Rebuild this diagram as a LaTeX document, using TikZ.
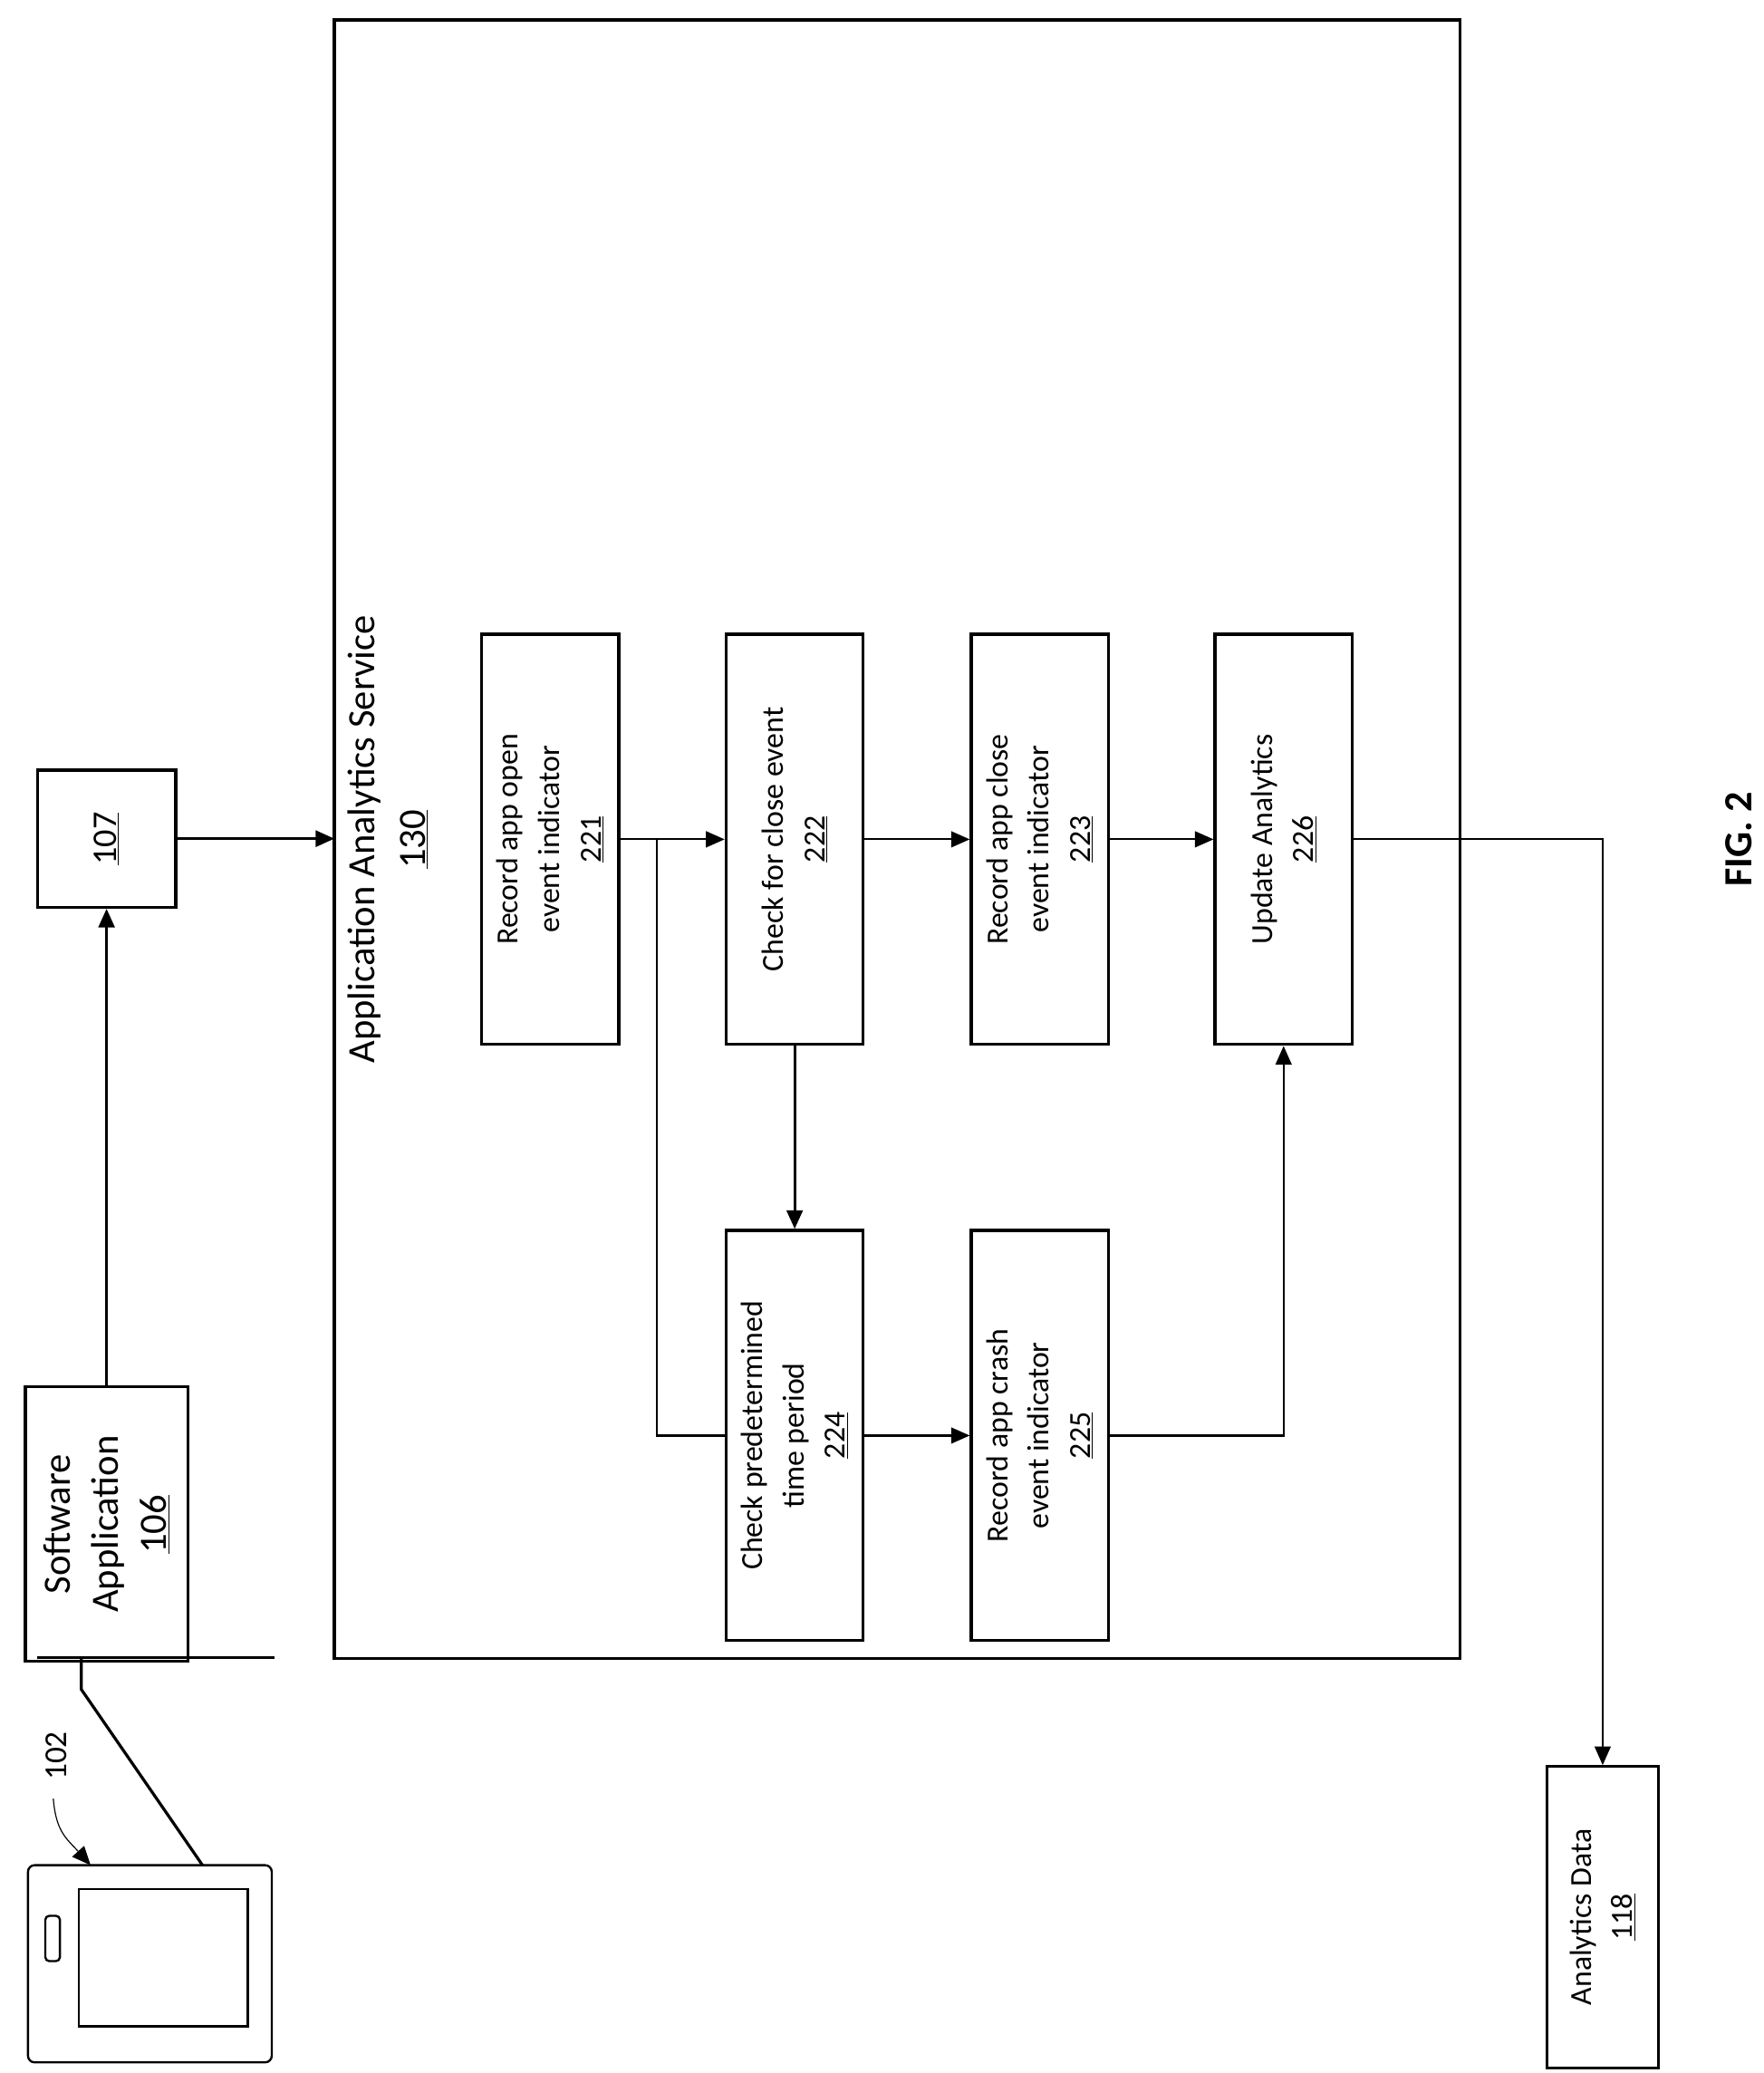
\documentclass[tikz,border=0pt]{standalone}
\usepackage{fontspec}
\setmainfont{Carlito}
\usetikzlibrary{arrows.meta}
\begin{document}
\begin{tikzpicture}[x=1pt,y=-1pt,
  box/.style={draw,line width=2.2pt,inner sep=0pt},
  lbl/.style={rotate=90,align=center,font=\fontsize{23}{31}\selectfont},
  ar/.style={line width=1.5pt,-{Triangle[length=14pt,width=12pt]}},
  ln/.style={line width=1.5pt}]
\useasboundingbox (0,0) rectangle (1324,1556);
% outer
\draw[line width=2.2pt] (251,15) rectangle (1096,1245);
\node[lbl,font=\fontsize{29}{38}\selectfont] (title) at (291,630) {Application Analytics Service\\\underline{130}};
% 107 and software app
\node[box,minimum width=104pt,minimum height=103pt] (b107) at (80,629.5) {};
\node[lbl,font=\fontsize{26}{34}\selectfont] at (b107) {\underline{107}};
\node[box,minimum width=122pt,minimum height=206pt] (sw) at (80,1144) {};
\node[lbl,font=\fontsize{29}{36}\selectfont] at (sw) {Software\\Application\\\underline{106}};
\draw[ar,line width=2.2pt] (sw.north) -- (b107.south);
\draw[ar,line width=2.2pt] (b107.east) -- (251,629.5);
% boxes
\foreach \n/\x/\y/\t in {221/413/630/{Record app open\\event indicator\\\underline{221}},
  222/596.5/630/{Check for close event\\\underline{222}},
  223/780.5/630/{Record app close\\event indicator\\\underline{223}},
  226/963.5/630/{Update Analytics\\\underline{226}},
  224/596.5/1077.5/{Check predetermined\\time period\\\underline{224}},
  225/780.5/1077.5/{Record app crash\\event indicator\\\underline{225}}}{
  \node[box,minimum width=103pt,minimum height=308pt] (n\n) at (\x,\y) {};
  \node[lbl] at (n\n) {\t};
}
\draw[ar] (n221.east) -- (n222.west);
\draw[ar] (n222.east) -- (n223.west);
\draw[ar] (n223.east) -- (n226.west);
\draw[ar,line width=2.2pt] (n222.south) -- (n224.north);
\draw[ar] (n224.east) -- (n225.west);
\draw[ar] (n225.east) -| (n226.south);
\coordinate (br) at (493,630);
\draw[ln] (br) |- (n224.west);
% analytics data
\node[box,minimum width=84pt,minimum height=226pt] (ad) at (1203,1439) {};
\node[lbl] at (ad) {Analytics Data\\\underline{118}};
\draw[ar] (n226.east) -| (ad.north);
% fig
\node[rotate=90,font=\bfseries\fontsize{30}{36}\selectfont] (fig) at (1305,630) {FIG. 2};
% phone
\draw[line width=1.6pt,rounded corners=5pt] (21,1400) rectangle (204,1548);
\draw[line width=1.6pt] (59,1418) rectangle (186,1521);
\draw[line width=1.6pt,rounded corners=3pt] (34,1438) rectangle (45,1472);
\coordinate (p1) at (152,1400);
\coordinate (p2) at (61,1268);
\draw[line width=2.2pt] (p1) -- (p2) -- (61,1244);
\draw[line width=2.2pt] (28,1244) -- (206,1244);
\node[rotate=90,font=\fontsize{24}{28}\selectfont] (l102) at (42,1318) {102};
\draw[line width=0.8pt,-{Triangle[length=14pt,width=12pt]}] (40,1350) .. controls (42,1375) and (50,1380) .. (68,1400);
\end{tikzpicture}
\end{document}
